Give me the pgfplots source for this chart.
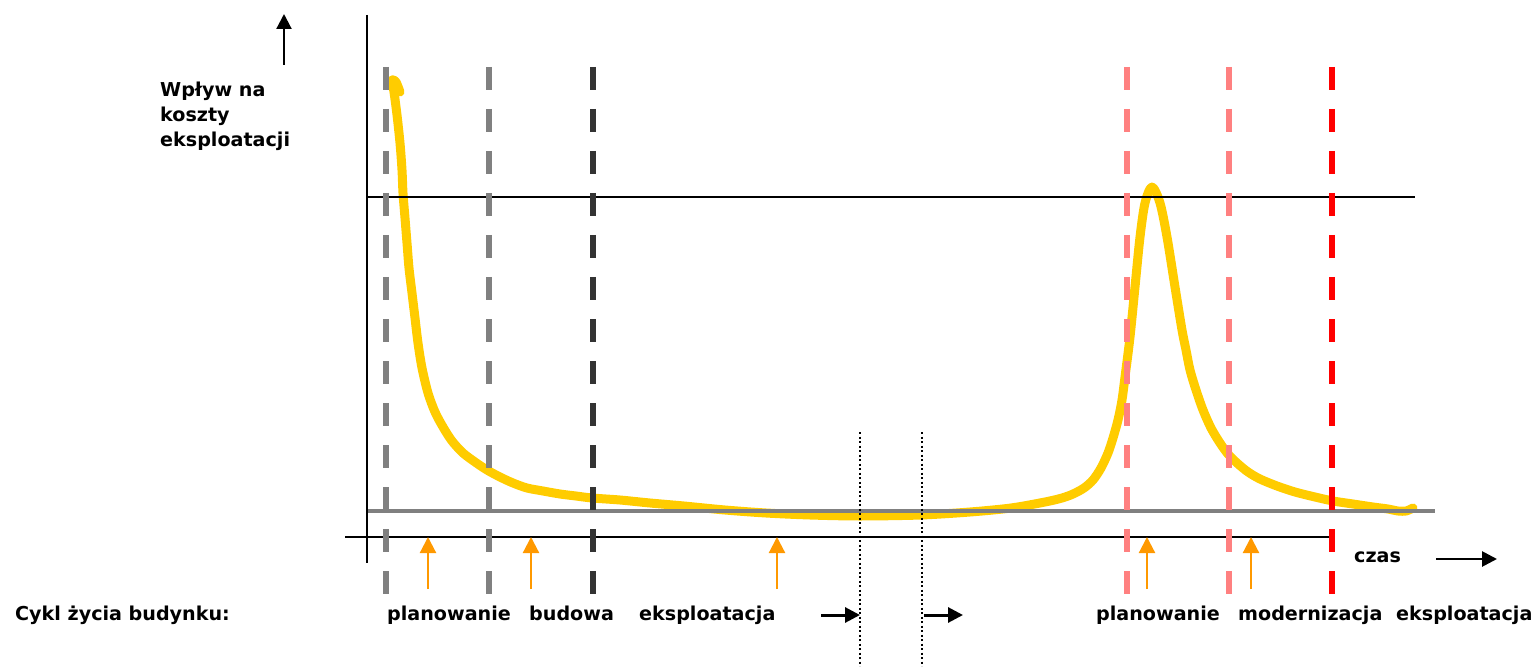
\documentclass[border=0pt]{standalone}
\usepackage{pgfplots}
\pgfplotsset{compat=1.18}
\usepackage{fontspec}
\setmainfont{DejaVu Sans}
\usetikzlibrary{arrows.meta}
\definecolor{curveY}{HTML}{FFCC00}
\definecolor{arrO}{HTML}{FF9900}
\definecolor{grayD}{HTML}{808080}
\definecolor{darkD}{HTML}{333333}
\definecolor{pinkD}{HTML}{FF8080}
\definecolor{redD}{HTML}{FF0000}
\begin{document}
\begin{tikzpicture}
\begin{axis}[
  scale only axis, width=1537bp, height=666bp,
  xmin=0, xmax=1537, ymin=0, ymax=666, y dir=reverse,
  axis lines=none, ticks=none, clip=false,
]
\path (axis cs:0,0) rectangle (axis cs:1537,666);
% curve
\addplot[curveY, line width=9bp, smooth, tension=0.5, line cap=round, line join=round] coordinates {
(400,92) (396,82) (392,80) (394,92) (397,115) (400,143) (402,170) (403,193) (405,218)
(407,243) (409,268) (412,293) (415,318) (418,343) (422,368) (428,393) (435,412)
(443,427) (452,441) (463,453) (475,462) (487,470) (500,477) (513,483) (527,488)
(543,491) (560,494) (576,496) (592,498) (620,500) (650,503) (684,506) (725,510)
(766,513) (810,515) (860,516) (921,515) (970,512) (1011,508) (1045,502) (1062,498)
(1073,494) (1084,488) (1093,480) (1101,468) (1108,453) (1113,438) (1118,420)
(1122,400) (1125,377) (1130,337) (1135,287) (1140,237) (1145,203) (1152,187)
(1160,203) (1167,237) (1175,287) (1182,330) (1186,350) (1190,370) (1196,390)
(1203,410) (1211,428) (1220,443) (1228,454) (1237,463) (1248,472) (1260,479)
(1277,486) (1295,492) (1315,497) (1333,501) (1353,504) (1373,507) (1388,509)
(1398,511) (1406,511) (1413,508)
};
% horizontal lines
\addplot[black, line width=2.7bp] coordinates {(367,197) (1415,197)};
\addplot[grayD, line width=3.2bp] coordinates {(367,511) (1435,511)};
\addplot[black, line width=2.7bp] coordinates {(345,537) (1332,537)};
% vertical axis
\addplot[black, line width=2.5bp] coordinates {(367,15) (367,563)};
% dashed verticals
\addplot[grayD, line width=5.5bp, dash pattern=on 23bp off 19bp] coordinates {(386,67) (386,594)};
\addplot[grayD, line width=5.5bp, dash pattern=on 23bp off 19bp] coordinates {(489,67) (489,594)};
\addplot[darkD, line width=5.5bp, dash pattern=on 23bp off 19bp] coordinates {(593,67) (593,594)};
\addplot[pinkD, line width=5.5bp, dash pattern=on 23bp off 19bp] coordinates {(1127,67) (1127,594)};
\addplot[pinkD, line width=5.5bp, dash pattern=on 23bp off 19bp] coordinates {(1229,67) (1229,594)};
\addplot[redD, line width=5.5bp, dash pattern=on 23bp off 19bp] coordinates {(1332,67) (1332,594)};
% dotted verticals
\addplot[black, line width=1.6bp, dash pattern=on 2bp off 2.5bp] coordinates {(860,432) (860,666)};
\addplot[black, line width=1.6bp, dash pattern=on 2bp off 2.5bp] coordinates {(922,432) (922,666)};
% orange arrows
\foreach \xx in {428,531,777,1147,1251}{
  \edef\tmp{\noexpand\draw[arrO, line width=2.2bp, -{Triangle[length=16bp,width=16bp]}] (axis cs:\xx,589) -- (axis cs:\xx,537);}
  \tmp
}
% black arrows
\draw[black, line width=2.2bp, -{Triangle[length=15bp,width=15bp]}] (axis cs:284,65) -- (axis cs:284,14);
\draw[black, line width=3bp, -{Triangle[length=15bp,width=15bp]}] (axis cs:821,615) -- (axis cs:860,615);
\draw[black, line width=3bp, -{Triangle[length=15bp,width=15bp]}] (axis cs:924,615) -- (axis cs:963,615);
\draw[black, line width=2.7bp, -{Triangle[length=15bp,width=15bp]}] (axis cs:1436,559) -- (axis cs:1497,559);
% texts
\begin{scope}[every node/.style={anchor=base west, inner sep=0pt, font=\fontsize{19.2}{25}\selectfont\bfseries}]
\node at (axis cs:160,97) {Wpływ na};
\node at (axis cs:160,122) {koszty};
\node at (axis cs:160,147) {eksploatacji};
\node at (axis cs:15,620) {Cykl życia budynku:};
\node at (axis cs:387,620) {planowanie};
\node at (axis cs:529,620) {budowa};
\node at (axis cs:639,620) {eksploatacja};
\node at (axis cs:1096,620) {planowanie};
\node at (axis cs:1238,620) {modernizacja};
\node at (axis cs:1396,620) {eksploatacja};
\node at (axis cs:1354,562) {czas};
\end{scope}
\end{axis}
\end{tikzpicture}
\end{document}
